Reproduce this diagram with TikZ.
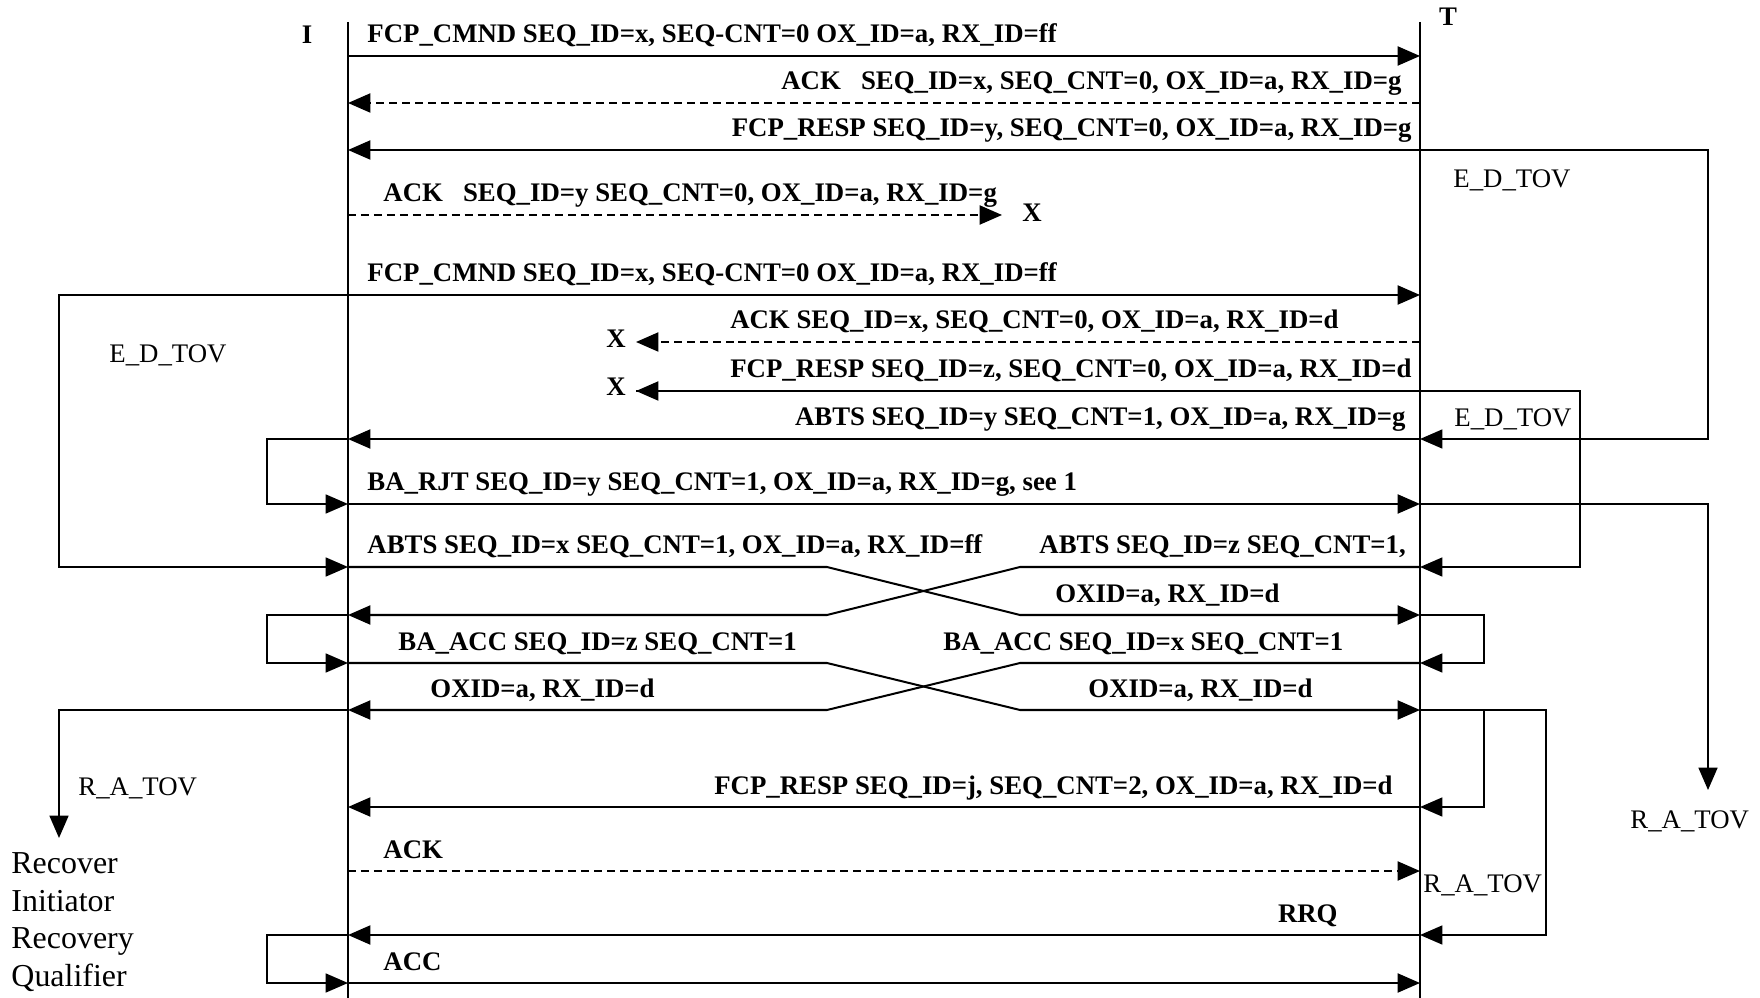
\documentclass[tikz,border=0pt]{standalone}
\usepackage{fontspec}
\setmainfont{Liberation Serif}
\usetikzlibrary{arrows.meta}

\tikzset{
  life/.style={line width=0.6pt},
  msg/.style={line width=0.9pt, -{Triangle[length=10pt,width=8.5pt]}},
  ackmsg/.style={msg, dash pattern=on 3.6pt off 2.2pt},
  timer/.style={line width=0.7pt},
  tarr/.style={timer, -{Triangle[length=10pt,width=8.5pt]}},
  lbl/.style={inner sep=0pt, font=\fontsize{12}{14}\selectfont\bfseries},
  tov/.style={inner sep=0pt, font=\fontsize{12}{14}\selectfont},
}

\begin{document}
\begin{tikzpicture}[x=0.4478pt, y=-0.4478pt]
\useasboundingbox (0,0) rectangle (1760,998);

% lifelines
\coordinate (Itop) at (348,22);
\coordinate (Ibot) at (348,998);
\coordinate (Ttop) at (1420,22);
\coordinate (Tbot) at (1420,998);
\draw[life] (Itop) -- (Ibot);
\draw[life] (Ttop) -- (Tbot);
\node[lbl] (ilab) at (307,35) {I};
\node[lbl] (tlab) at (1448,17) {T};

% rows on both lifelines
\foreach \r/\y in {1/56,2/103,3/150,4/215,5/295,6/342,7/391,8/439,9/504,
                   10/567,11/615,12/663,13/710,14/807,15/871,16/935,17/983} {
  \coordinate (I\r) at (348,\y);
  \coordinate (T\r) at (1420,\y);
}

% columns for timers and crossings
\coordinate (farL) at (59,0);
\coordinate (nearL) at (267,0);
\coordinate (bendL) at (827,0);
\coordinate (bendR) at (1020,0);
\coordinate (nearR) at (1484,0);
\coordinate (midR) at (1546,0);
\coordinate (edR) at (1580,0);
\coordinate (farR) at (1708,0);

% lost frames
\coordinate (lost1) at (1002,215);
\coordinate (lost2) at (636,342);
\coordinate (lost3) at (636,391);

% messages
\draw[msg] (I1) -- (T1);
\draw[ackmsg] (T2) -- (I2);
\draw[msg] (T3) -- (I3);
\draw[ackmsg] (I4) -- (lost1);
\draw[msg] (I5) -- (T5);
\draw[ackmsg] (T6) -- (lost2);
\draw[msg] (T7) -- (lost3);
\draw[msg] (T8) -- (I8);
\draw[msg] (I9) -- (T9);
\draw[msg] (I10) -- (I10 -| bendL) -- (T11 -| bendR) -- (T11);
\draw[msg] (T10) -- (T10 -| bendR) -- (I11 -| bendL) -- (I11);
\draw[msg] (I12) -- (I12 -| bendL) -- (T13 -| bendR) -- (T13);
\draw[msg] (T12) -- (T12 -| bendR) -- (I13 -| bendL) -- (I13);
\draw[msg] (T14) -- (I14);
\draw[ackmsg] (I15) -- (T15);
\draw[msg] (T16) -- (I16);
\draw[msg] (I17) -- (T17);

% timers
\draw[tarr] (T3) -- (T3 -| farR) -- (T8 -| farR) -- (T8);
\draw[tarr] (I5) -- (I5 -| farL) -- (I10 -| farL) -- (I10);
\draw[tarr] (lost3) -- (T7 -| edR) -- (T10 -| edR) -- (T10);
\draw[tarr] (I8) -- (I8 -| nearL) -- (I9 -| nearL) -- (I9);
\coordinate (raR) at (1708,790);
\draw[tarr] (T9) -- (T9 -| farR) -- (raR);
\draw[tarr] (I11) -- (I11 -| nearL) -- (I12 -| nearL) -- (I12);
\draw[tarr] (T11) -- (T11 -| nearR) -- (T12 -| nearR) -- (T12);
\coordinate (raL) at (59,838);
\draw[tarr] (I13) -- (I13 -| farL) -- (raL);
\draw[tarr] (T13) -- (T13 -| nearR) -- (T14 -| nearR) -- (T14);
\draw[tarr] (T13) -- (T13 -| midR) -- (T16 -| midR) -- (T16);
\draw[tarr] (I16) -- (I16 -| nearL) -- (I17 -| nearL) -- (I17);

% message labels
\node[lbl, anchor=base west] (m1) at (367,43) {FCP\_CMND SEQ\_ID=x, SEQ-CNT=0 OX\_ID=a, RX\_ID=ff};
\node[lbl, anchor=base east] (m2) at (1402,90) {ACK\ \ \ SEQ\_ID=x, SEQ\_CNT=0, OX\_ID=a, RX\_ID=g};
\node[lbl, anchor=base east] (m3) at (1412,137) {FCP\_RESP SEQ\_ID=y, SEQ\_CNT=0, OX\_ID=a, RX\_ID=g};
\node[lbl, anchor=base west] (m4) at (383,202) {ACK\ \ \ SEQ\_ID=y SEQ\_CNT=0, OX\_ID=a, RX\_ID=g};
\node[lbl] (x1) at (1032,213) {X};
\node[lbl, anchor=base west] (m5) at (367,282) {FCP\_CMND SEQ\_ID=x, SEQ-CNT=0 OX\_ID=a, RX\_ID=ff};
\node[lbl, anchor=base east] (m6) at (1339,329) {ACK SEQ\_ID=x, SEQ\_CNT=0, OX\_ID=a, RX\_ID=d};
\node[lbl] (x2) at (616,339) {X};
\node[lbl, anchor=base east] (m7) at (1412,378) {FCP\_RESP SEQ\_ID=z, SEQ\_CNT=0, OX\_ID=a, RX\_ID=d};
\node[lbl] (x3) at (616,387) {X};
\node[lbl, anchor=base east] (m8) at (1406,426) {ABTS SEQ\_ID=y SEQ\_CNT=1, OX\_ID=a, RX\_ID=g};
\node[lbl, anchor=base west] (m9) at (367,491) {BA\_RJT SEQ\_ID=y SEQ\_CNT=1, OX\_ID=a, RX\_ID=g, see 1};
\node[lbl, anchor=base west] (m10a) at (367,554) {ABTS SEQ\_ID=x SEQ\_CNT=1, OX\_ID=a, RX\_ID=ff};
\node[lbl, anchor=base west] (m10b) at (1039,554) {ABTS SEQ\_ID=z SEQ\_CNT=1,};
\node[lbl, anchor=base west] (m11) at (1055,602) {OXID=a, RX\_ID=d};
\node[lbl, anchor=base west] (m12a) at (398,650) {BA\_ACC SEQ\_ID=z SEQ\_CNT=1};
\node[lbl, anchor=base west] (m12b) at (943,650) {BA\_ACC SEQ\_ID=x SEQ\_CNT=1};
\node[lbl, anchor=base west] (m13a) at (430,697) {OXID=a, RX\_ID=d};
\node[lbl, anchor=base west] (m13b) at (1088,697) {OXID=a, RX\_ID=d};
\node[lbl, anchor=base east] (m14) at (1393,794) {FCP\_RESP SEQ\_ID=j, SEQ\_CNT=2, OX\_ID=a, RX\_ID=d};
\node[lbl, anchor=base west] (m15) at (383,858) {ACK};
\node[lbl, anchor=base east] (m16) at (1338,922) {RRQ};
\node[lbl, anchor=base west] (m17) at (383,970) {ACC};

% timer labels
\node[tov, anchor=base west] (ed1) at (1453,188) {E\_D\_TOV};
\node[tov, anchor=base west] (ed2) at (109,363) {E\_D\_TOV};
\node[tov, anchor=base west] (ed3) at (1454,427) {E\_D\_TOV};
\node[tov, anchor=base west] (ra1) at (1630,828) {R\_A\_TOV};
\node[tov, anchor=base west] (ra2) at (78,795) {R\_A\_TOV};
\node[tov, anchor=base west] (ra3) at (1423,892) {R\_A\_TOV};
\node[inner sep=0pt, anchor=north west, align=left,
      font=\fontsize{14.3}{16.9}\selectfont] (recov) at (11,852)
  {Recover\\Initiator\\Recovery\\Qualifier};
\end{tikzpicture}
\end{document}
